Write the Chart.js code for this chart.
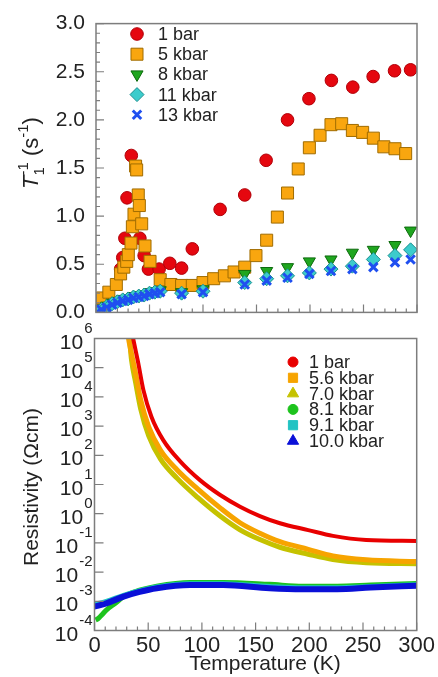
<!DOCTYPE html>
<html>
<head>
<meta charset="utf-8">
<script src="https://cdn.jsdelivr.net/npm/chart.js@4.4.0/dist/chart.umd.min.js"></script>
<style>
  body { margin: 0; background: #fff; width: 438px; height: 677px; position: relative; overflow: hidden; }
  canvas { position: absolute; left: 0; }
  #t1Chart { top: 0; }
  #rhoChart { top: 318px; }
</style>
</head>
<body>
<canvas id="t1Chart" width="438" height="336"></canvas>
<canvas id="rhoChart" width="438" height="359"></canvas>
<script>
// ---- top panel: 1/T1 (s^-1) vs temperature (K)
const t1Temp1bar = [1, 3, 23, 25, 27, 29, 33, 41, 45, 49, 59, 69, 80, 90, 116, 139, 159, 179, 199, 220, 240, 259, 279, 294];
const t1Rate1bar = [0.07, 0.1, 0.45, 0.57, 0.77, 1.19, 1.63, 0.77, 0.59, 0.45, 0.45, 0.51, 0.46, 0.66, 1.07, 1.22, 1.58, 2.0, 2.22, 2.41, 2.34, 2.45, 2.51, 2.52];
const t1Temp5k = [0.6, 2.2, 6, 12, 19, 23, 26, 28.7, 30.2, 32.7, 34, 35.5, 37, 38, 39.5, 40.5, 42.7, 45.8, 50.5, 60,
  70, 80, 90, 100, 110, 120, 129, 139, 149.5, 159.5, 169.5, 179, 189, 199.4, 209.4, 219.6, 229.6, 239.6, 249.2, 259.2, 269, 279.4, 289.4];
const t1Rate5k = [0.05, 0.08, 0.15, 0.21, 0.29, 0.40, 0.47, 0.53, 0.60, 0.72, 0.89, 1.02, 1.52, 1.48, 1.22, 1.11, 0.92, 0.69, 0.53, 0.34,
  0.29, 0.28, 0.28, 0.31, 0.35, 0.38, 0.42, 0.47, 0.59, 0.75, 0.99, 1.24, 1.49, 1.71, 1.84, 1.95, 1.96, 1.89, 1.87, 1.81, 1.72, 1.70, 1.65];
// 8, 11 and 13 kbar were measured at the same temperatures
const t1TempHigh = [1, 5, 10, 15, 20, 25, 30, 35, 40, 45, 50, 55, 60, 80, 100, 139, 159.5, 179, 199.4, 219.6, 239.6, 259.2, 279.4, 294];
const t1Rate8k = [0.01, 0.04, 0.07, 0.1, 0.12, 0.14, 0.15, 0.17, 0.18, 0.19, 0.21, 0.22, 0.23, 0.21, 0.24, 0.40, 0.43, 0.47, 0.53, 0.55, 0.62, 0.65, 0.70, 0.85];
const t1Rate11k = [0.0, 0.03, 0.06, 0.09, 0.11, 0.13, 0.14, 0.16, 0.17, 0.18, 0.2, 0.21, 0.22, 0.2, 0.22, 0.31, 0.35, 0.38, 0.41, 0.45, 0.48, 0.55, 0.59, 0.65];
const t1Rate13k = [0.0, 0.03, 0.05, 0.08, 0.1, 0.12, 0.13, 0.15, 0.16, 0.17, 0.19, 0.2, 0.21, 0.19, 0.21, 0.29, 0.33, 0.36, 0.40, 0.43, 0.45, 0.47, 0.52, 0.55];
const t1Labels = ["1 bar", "5 kbar", "8 kbar", "11 kbar", "13 kbar"];
const t1TickLabels = [0, 0.5, 1.0, 1.5, 2.0, 2.5, 3.0];

// ---- bottom panel: resistivity (Ohm cm) vs temperature (K)
const rhoTemp1bar = [34, 36, 40.8, 45.5, 53, 64, 79.6, 98.2, 117, 135.5, 154, 172.7, 199, 222, 253, 300];
const rho1bar = [2.5e6, 1e6, 1.4e5, 1.74e4, 2.1e3, 331, 63, 14.1, 4.37, 1.74, 0.83, 0.47, 0.275, 0.174, 0.126, 0.117];
const rhoTemp56k = [30.5, 31.5, 33.5, 38.3, 43, 50.5, 61.5, 77, 96, 117, 135.5, 154, 172.7, 199, 222, 253, 300];
const rho56k = [2.5e6, 1.12e6, 4.47e5, 6.3e4, 7.9e3, 933, 148, 31.6, 7.08, 1.58, 0.49, 0.214, 0.11, 0.06, 0.0355, 0.0263, 0.0229];
const rhoTemp70k = [31, 32, 34.5, 38.3, 43, 50.5, 61.5, 77, 96, 117, 135.5, 154, 172.7, 199, 222, 253, 300];
const rho70k = [2.5e6, 1.6e6, 1.8e5, 3.1e4, 3.9e3, 460, 74, 16.2, 3.6, 0.83, 0.28, 0.13, 0.071, 0.041, 0.027, 0.021, 0.0195];
const rhoTemp81k = [1, 3, 6.7, 11, 20, 27, 42, 58, 89, 120, 163, 194, 226, 257, 300];
const rho81k = [2.3e-4, 2.5e-4, 3.4e-4, 5e-4, 8.9e-4, 1.45e-3, 2.4e-3, 3.3e-3, 4.4e-3, 4.4e-3, 3.8e-3, 3.3e-3, 3.3e-3, 3.6e-3, 4.1e-3];
const rhoTemp91k = [0, 11, 27, 42, 58, 89, 120, 163, 194, 226, 257, 300];
const rho91k = [7.9e-4, 1e-3, 1.6e-3, 2.3e-3, 3.1e-3, 4e-3, 4e-3, 3.2e-3, 2.9e-3, 2.9e-3, 3.2e-3, 3.7e-3];
const rhoTemp100k = [0, 11, 27, 42, 58, 89, 120, 163, 194, 226, 257, 300];
const rho100k = [6.6e-4, 8.5e-4, 1.45e-3, 2.1e-3, 2.8e-3, 3.6e-3, 3.6e-3, 2.8e-3, 2.6e-3, 2.6e-3, 2.95e-3, 3.4e-3];
const rhoLabels = ["1 bar", "5.6 kbar", "7.0 kbar", "8.1 kbar", "9.1 kbar", "10.0 kbar"];
const rhoDecades = [-4, -3, -2, -1, 0, 1, 2, 3, 4, 5, 6];
const tempTickLabels = [0, 50, 100, 150, 200, 250, 300];

const FONT = "'Liberation Sans', Arial, sans-serif";
const TEXT = "#222";
const FRAME = "#7d7d7d";

const zip = (xs, ys) => xs.map((x, i) => ({ x: x, y: ys[i] }));
const isMajor = (v, step) => Math.abs(v / step - Math.round(v / step)) < 1e-6;

// box + inward tick marks
const frameTicks = {
  id: "frameTicks",
  afterDatasetsDraw(chart, args, opts) {
    const { ctx, chartArea: a, scales: { x, y } } = chart;
    ctx.save();
    ctx.strokeStyle = FRAME;
    ctx.lineWidth = 1.5;
    ctx.strokeRect(a.left, a.top, a.right - a.left, a.bottom - a.top);
    ctx.lineWidth = 1.2;
    ctx.beginPath();
    x.ticks.forEach(t => {
      const px = x.getPixelForValue(t.value);
      const len = tempTickLabels.includes(Math.round(t.value)) ? 8 : 4;
      ctx.moveTo(px, a.bottom);
      ctx.lineTo(px, a.bottom - len);
    });
    if (opts.log) {
      rhoDecades.forEach(e => {
        const py = y.getPixelForValue(Math.pow(10, e));
        ctx.moveTo(a.left, py);
        ctx.lineTo(a.left + 9, py);
      });
    } else {
      y.ticks.forEach(t => {
        const py = y.getPixelForValue(t.value);
        const len = isMajor(t.value, 0.5) ? 8 : 4;
        ctx.moveTo(a.left, py);
        ctx.lineTo(a.left + len, py);
      });
    }
    ctx.stroke();
    ctx.restore();
  }
};

// legend drawn inside the plot area
const innerLegend = {
  id: "innerLegend",
  afterDraw(chart, args, opts) {
    const ctx = chart.ctx;
    ctx.save();
    ctx.font = opts.size + "px " + FONT;
    ctx.textBaseline = "middle";
    ctx.textAlign = "left";
    chart.data.datasets.forEach((ds, i) => {
      const y = opts.y + i * opts.step;
      ctx.fillStyle = ds.legendFill || ds.pointBackgroundColor;
      ctx.strokeStyle = ds.legendStroke || ds.pointBorderColor;
      ctx.lineWidth = ds.legendBorder != null ? ds.legendBorder : ds.pointBorderWidth;
      Chart.helpers.drawPoint(ctx, {
        pointStyle: ds.legendStyle || ds.pointStyle,
        rotation: ds.pointRotation || 0,
        radius: ds.legendRadius || ds.pointRadius,
        borderWidth: ctx.lineWidth
      }, opts.x, y);
      ctx.fillStyle = TEXT;
      ctx.fillText(ds.label, opts.textX, y + 1);
    });
    ctx.restore();
  }
};

// axis titles with sub/superscripts
const axisTitles = {
  id: "axisTitles",
  afterDraw(chart, args, opts) {
    const ctx = chart.ctx;
    ctx.save();
    ctx.fillStyle = TEXT;
    ctx.textBaseline = "alphabetic";
    opts.items.forEach(item => {
      ctx.save();
      ctx.translate(item.x, item.y);
      if (item.rotate) ctx.rotate(-Math.PI / 2);
      let w = 0;
      const widths = item.parts.map(p => {
        ctx.font = p.font;
        const pw = Math.max(...p.text.split("|").map(s => ctx.measureText(s).width));
        w += pw;
        return pw;
      });
      let x = -w / 2;
      item.parts.forEach((p, i) => {
        ctx.font = p.font;
        const pieces = p.text.split("|");
        const offs = p.dy.toString().split("|").map(Number);
        pieces.forEach((s, k) => ctx.fillText(s, x, offs[k] || 0));
        x += widths[i];
      });
      ctx.restore();
    });
    ctx.restore();
  }
};

// 10^n labels for the log axis
const decadeLabels = {
  id: "decadeLabels",
  afterDraw(chart) {
    const { ctx, chartArea: a, scales: { y } } = chart;
    ctx.save();
    ctx.fillStyle = TEXT;
    ctx.textAlign = "right";
    ctx.textBaseline = "alphabetic";
    rhoDecades.forEach(e => {
      const py = y.getPixelForValue(Math.pow(10, e));
      ctx.font = "15px " + FONT;
      const ex = String(e);
      const ew = ctx.measureText(ex).width;
      const right = a.left - 2;
      ctx.fillText(ex, right, py - 6);
      ctx.font = "21px " + FONT;
      ctx.fillText("10", right - ew - 1, py + 10);
    });
    ctx.restore();
  }
};

const t1Chart = new Chart(document.getElementById("t1Chart"), {
  type: "scatter",
  data: {
    datasets: [
      { label: t1Labels[0], data: zip(t1Temp1bar, t1Rate1bar), pointStyle: "circle", pointRadius: 6.3,
        pointBackgroundColor: "#e5070f", pointBorderColor: "#b00008", pointBorderWidth: 1, order: 5 },
      { label: t1Labels[1], data: zip(t1Temp5k, t1Rate5k), pointStyle: "rect", pointRadius: 8.5,
        pointBackgroundColor: "#f9a60f", pointBorderColor: "#a06c00", pointBorderWidth: 1, order: 4 },
      { label: t1Labels[2], data: zip(t1TempHigh, t1Rate8k), pointStyle: "triangle", pointRotation: 180, pointRadius: 7,
        pointBackgroundColor: "#1fa61f", pointBorderColor: "#0d6a0d", pointBorderWidth: 1, order: 3 },
      { label: t1Labels[3], data: zip(t1TempHigh, t1Rate11k), pointStyle: "rectRot", pointRadius: 7,
        pointBackgroundColor: "#3ccccc", pointBorderColor: "#1a8f8f", pointBorderWidth: 1, order: 2 },
      { label: t1Labels[4], data: zip(t1TempHigh, t1Rate13k), pointStyle: "crossRot", pointRadius: 6,
        pointBackgroundColor: "#1f4ff0", pointBorderColor: "#1f4ff0", pointBorderWidth: 3, order: 1 }
    ]
  },
  options: {
    responsive: false,
    animation: false,
    devicePixelRatio: 1,
    layout: { padding: { left: 0, right: 21, top: 20, bottom: 0 } },
    plugins: {
      legend: { display: false },
      tooltip: { enabled: false },
      innerLegend: { x: 137, textX: 158, y: 34, step: 20.2, size: 18 },
      frameTicks: { log: false },
      axisTitles: { items: [{ x: 38, y: 153, rotate: true, parts: [
        { text: "T", font: "italic 22px " + FONT, dy: 0 },
        { text: "1|-1", font: "15px " + FONT, dy: "6|-10" },
        { text: " (s", font: "22px " + FONT, dy: 0 },
        { text: "-1", font: "15px " + FONT, dy: -10 },
        { text: ")", font: "22px " + FONT, dy: 0 }
      ] }] }
    },
    scales: {
      x: {
        type: "linear", min: 0, max: 300,
        ticks: { stepSize: 10, display: false },
        grid: { display: false, drawTicks: false },
        border: { display: false },
        afterFit: s => { s.height = 20; }
      },
      y: {
        min: 0, max: 3,
        ticks: {
          stepSize: 0.1, autoSkip: false, padding: 11, color: TEXT,
          font: { size: 21, family: FONT },
          callback: v => t1TickLabels.some(t => Math.abs(t - v) < 1e-6) ? v.toFixed(1) : ""
        },
        grid: { display: false, drawTicks: false },
        border: { display: false },
        afterFit: s => { s.width = 96; }
      }
    }
  },
  plugins: [frameTicks, innerLegend, axisTitles]
});

const lineSet = (label, xs, ys, color, width, style, order) => ({
  label: label, data: zip(xs, ys), borderColor: color, borderWidth: width,
  pointRadius: 0, cubicInterpolationMode: "monotone", clip: 0, order: order,
  legendStyle: style, legendFill: color, legendStroke: color, legendBorder: 0,
  legendRadius: style === "circle" ? 5 : 6.5
});

const rhoChart = new Chart(document.getElementById("rhoChart"), {
  type: "line",
  data: {
    datasets: [
      lineSet(rhoLabels[0], rhoTemp1bar, rho1bar, "#e80000", 4, "circle", 0),
      lineSet(rhoLabels[1], rhoTemp56k, rho56k, "#f7a400", 5, "rect", 1),
      lineSet(rhoLabels[2], rhoTemp70k, rho70k, "#c5c200", 5, "triangle", 2),
      lineSet(rhoLabels[3], rhoTemp81k, rho81k, "#1dc31d", 5, "circle", 5),
      lineSet(rhoLabels[4], rhoTemp91k, rho91k, "#22c3c3", 5, "rect", 4),
      lineSet(rhoLabels[5], rhoTemp100k, rho100k, "#0a10d8", 6, "triangle", 3)
    ]
  },
  options: {
    responsive: false,
    animation: false,
    devicePixelRatio: 1,
    layout: { padding: { left: 0, right: 21.3, top: 20.5, bottom: 0 } },
    plugins: {
      legend: { display: false },
      tooltip: { enabled: false },
      innerLegend: { x: 293, textX: 309, y: 44, step: 15.8, size: 18 },
      frameTicks: { log: true },
      axisTitles: { items: [
        { x: 38, y: 169, rotate: true, parts: [{ text: "Resistivity (\u03A9cm)", font: "21px " + FONT, dy: 0 }] },
        { x: 265, y: 352, rotate: false, parts: [{ text: "Temperature (K)", font: "21px " + FONT, dy: 0 }] }
      ] }
    },
    scales: {
      x: {
        type: "linear", min: 0, max: 300,
        ticks: {
          stepSize: 10, autoSkip: false, maxRotation: 0, padding: 2, color: TEXT,
          font: { size: 22, family: FONT },
          callback: v => tempTickLabels.includes(v) ? String(v) : ""
        },
        grid: { display: false, drawTicks: false },
        border: { display: false },
        afterFit: s => { s.height = 46.5; }
      },
      y: {
        type: "logarithmic", min: 1e-4, max: 1e6,
        ticks: { display: false },
        grid: { display: false, drawTicks: false },
        border: { display: false },
        afterFit: s => { s.width = 94.5; }
      }
    }
  },
  plugins: [frameTicks, innerLegend, axisTitles, decadeLabels]
});
</script>
</body>
</html>
